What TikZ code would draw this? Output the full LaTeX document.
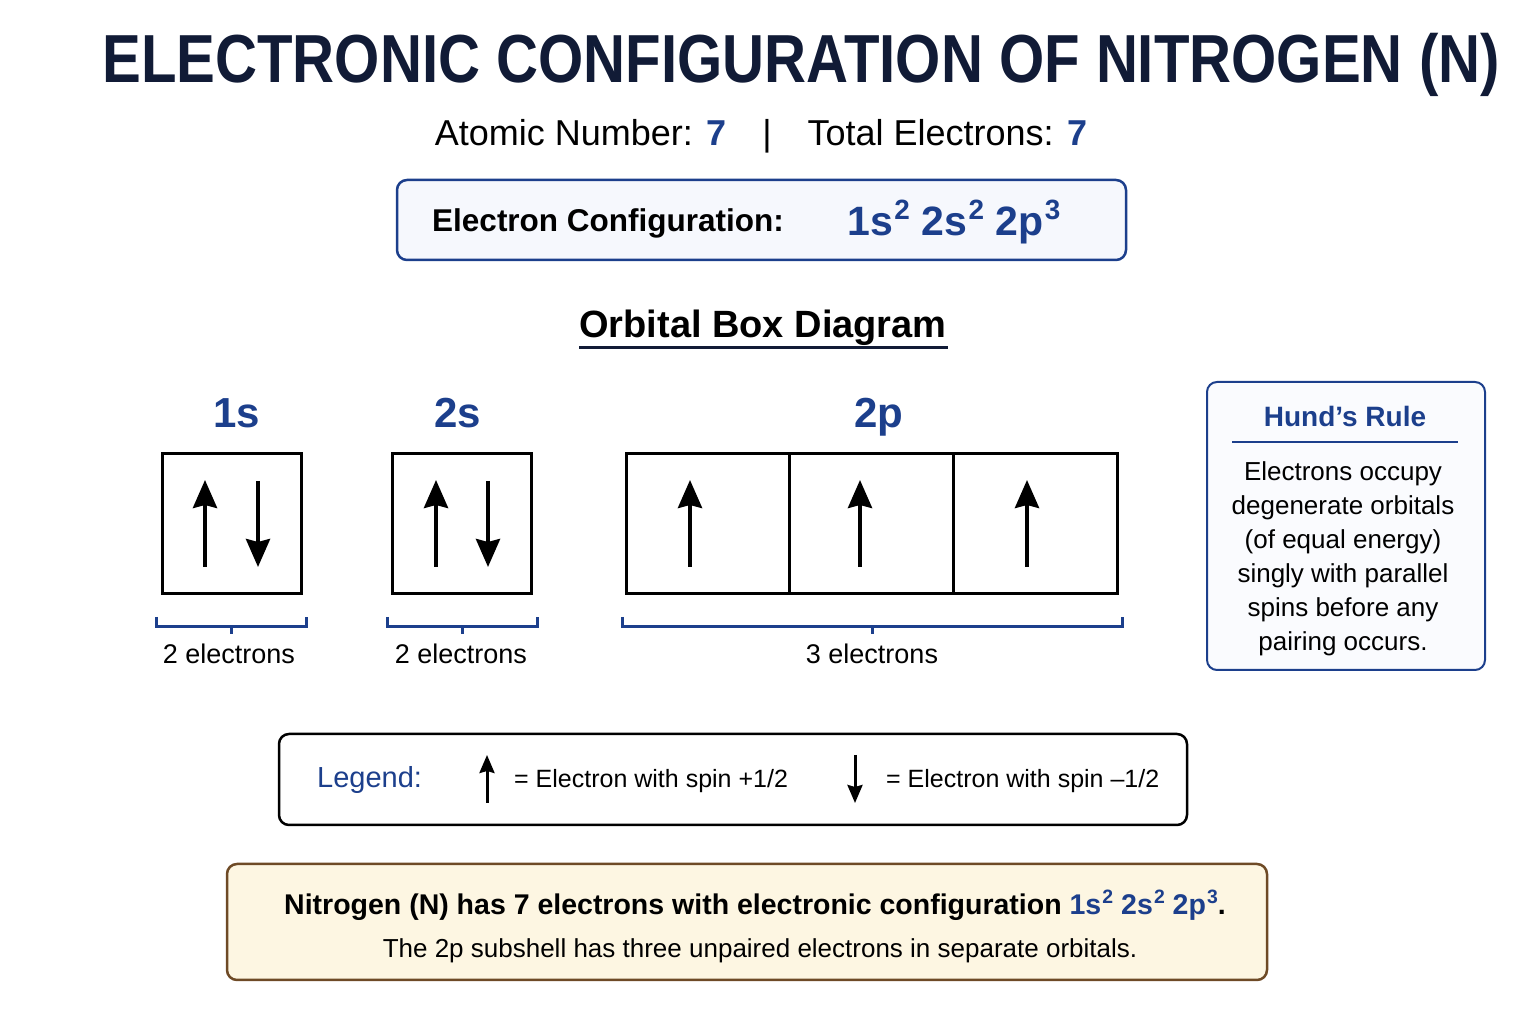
\documentclass[tikz,border=0pt]{standalone}
\usepackage{fontspec}
\setmainfont{Liberation Sans}
\usepackage{xcolor}
\usetikzlibrary{arrows.meta,positioning}

\definecolor{navy}{HTML}{111B36}
\definecolor{chemblue}{HTML}{1C3F8C}
\definecolor{paleblue}{HTML}{F6F8FD}
\definecolor{cream}{HTML}{FDF6E2}
\definecolor{brownline}{HTML}{6E4A26}

\newcommand\shellexp[1]{\kern0.04em\raisebox{0.40em}{\scalebox{0.68}{#1}}}

\begin{document}
\begin{tikzpicture}[x=1pt, y=1pt, inner sep=0pt,
  txt/.style={anchor=base, inner sep=0pt},
  panel/.style={draw=chemblue, line width=2.5pt, fill=paleblue, rounded corners=10pt},
  orb/.style={draw, line width=3pt, minimum height=140pt},
  spin/.style={line width=4pt, -{Stealth[length=28pt,width=24pt,inset=3pt]}},
  smallspin/.style={line width=3pt, -{Stealth[length=18pt,width=15pt,inset=2pt]}},
  brace/.style={draw=chemblue, line width=3pt}]
\useasboundingbox (0,0) rectangle (1536,1024);

% title and header
\node [txt, font=\fontsize{68}{80}\selectfont\bfseries, text=navy] (title) at (801,941)
  {\scalebox{0.855}[1]{ELECTRONIC CONFIGURATION OF NITROGEN (N)}};
\node [txt, font=\fontsize{36}{43}\selectfont] (atomic) at (761,878)
  {Atomic Number: \textcolor{chemblue}{\bfseries 7}\quad|\quad Total Electrons: \textcolor{chemblue}{\bfseries 7}};

% configuration panel
\node [panel, minimum width=729pt, minimum height=80pt] (config) at (761.5,804) {};
\node [txt, anchor=base west, font=\fontsize{31.5}{38}\selectfont\bfseries] (configlabel) at (432,792)
  {Electron Configuration:};
\node [txt, anchor=base west, font=\fontsize{41}{48}\selectfont\bfseries, text=chemblue] (configvalue) at (847,788)
  {1s\shellexp{2} 2s\shellexp{2} 2p\shellexp{3}};

% orbital box diagram
\node [txt, font=\fontsize{38}{46}\selectfont\bfseries] (diagram) at (763,686) {Orbital Box Diagram};
\draw [line width=3pt, navy] (579,676) -- (948,676);

\node [txt, font=\fontsize{42}{50}\selectfont\bfseries, text=chemblue] (l1s) at (237,596) {1s};
\node [txt, font=\fontsize{42}{50}\selectfont\bfseries, text=chemblue] (l2s) at (458,596) {2s};
\node [txt, font=\fontsize{42}{50}\selectfont\bfseries, text=chemblue] (l2p) at (879,596) {2p};

\node [orb, minimum width=139pt] (b1s) at (231.5,500) {};
\node [orb, minimum width=139pt] (b2s) at (461.5,500) {};
\node [orb, minimum width=163pt] (b2px) at (707.5,500) {};
\node [orb, minimum width=164pt] (b2py) at (871,500) {};
\node [orb, minimum width=164pt] (b2pz) at (1035,500) {};

\foreach \x in {205,436,690,860,1027}
  \draw [spin] (\x,457) -- (\x,544);
\foreach \x in {258,488}
  \draw [spin] (\x,543) -- (\x,457);

% electron counts
\draw [brace] (156,407) |- (306,397) -- (306,407) (231,397) -- (231,390);
\draw [brace] (387,407) |- (537,397) -- (537,407) (462,397) -- (462,390);
\draw [brace] (622,407) |- (1122,397) -- (1122,407) (872,397) -- (872,390);
\node [txt, font=\fontsize{27}{32}\selectfont] (n1s) at (229,360) {2 electrons};
\node [txt, font=\fontsize{27}{32}\selectfont] (n2s) at (461,360) {2 electrons};
\node [txt, font=\fontsize{27}{32}\selectfont] (n2p) at (872,360) {3 electrons};

% hund's rule
\node [panel, line width=2pt, fill=paleblue!60, minimum width=278pt, minimum height=288pt] (hund) at (1346,498) {};
\node [txt, font=\fontsize{28}{34}\selectfont\bfseries, text=chemblue] (hundtitle) at (1345,597) {Hund’s Rule};
\draw [line width=2.5pt, chemblue] (1232,582) -- (1458,582);
\node [font=\fontsize{26}{34}\selectfont, align=center] (hundtext) at (1343,465)
  {Electrons occupy\\degenerate orbitals\\(of equal energy)\\singly with parallel\\spins before any\\pairing occurs.};

% legend
\node [draw, line width=2.5pt, rounded corners=10pt, fill=white, minimum width=908pt, minimum height=91pt] (legend) at (733,244.5) {};
\node [txt, anchor=base west, font=\fontsize{29}{35}\selectfont, text=chemblue] (legendlabel) at (317,236) {Legend:};
\draw [smallspin] (487,221) -- (487,269);
\node [txt, anchor=base west, font=\fontsize{25}{30}\selectfont] (spinup) at (514,236) {= Electron with spin +1/2};
\draw [smallspin] (855,269) -- (855,221);
\node [txt, anchor=base west, font=\fontsize{25}{30}\selectfont] (spindown) at (886,236) {= Electron with spin –1/2};

% summary
\node [draw=brownline, line width=2.5pt, rounded corners=10pt, fill=cream, minimum width=1040pt, minimum height=116pt] (summary) at (747,102) {};
\node [txt, anchor=base west, font=\fontsize{28.5}{35}\selectfont\bfseries] (summaryone) at (284,109)
  {Nitrogen (N) has 7 electrons with electronic configuration \textcolor{chemblue}{1s\shellexp{2} 2s\shellexp{2} 2p\shellexp{3}}.};
\node [txt, font=\fontsize{26}{31}\selectfont] (summarytwo) at (760,66)
  {The 2p subshell has three unpaired electrons in separate orbitals.};
\end{tikzpicture}
\end{document}
